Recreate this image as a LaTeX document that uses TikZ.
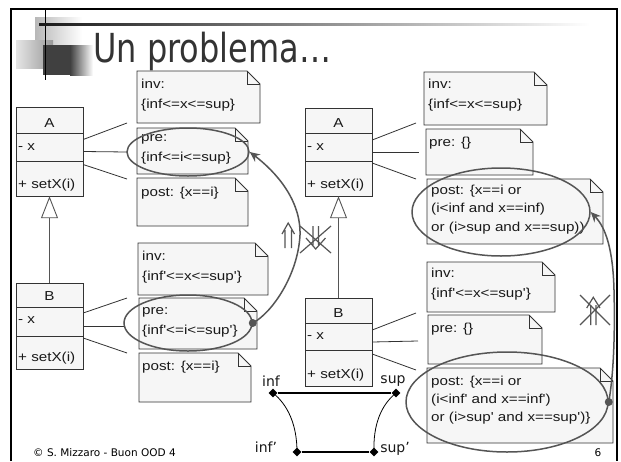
\documentclass[tikz,border=0pt]{standalone}
\usepackage{fontspec}
\setmainfont{DejaVu Sans}
\newfontfamily\umlfont[FakeStretch=1.17]{Liberation Sans}
\usetikzlibrary{shapes.geometric, arrows.meta, fit, calc}

\definecolor{ink}{HTML}{333333}
\definecolor{paper}{HTML}{F6F6F6}
\definecolor{markgray}{HTML}{555555}

\tikzset{
  notebox/.style={draw=ink, fill=paper, line width=0.9pt, line join=miter},
  foldline/.style={draw=ink, line width=0.9pt},
  classbox/.style={draw=ink, fill=paper, line width=0.9pt},
  txt/.style={anchor=base west, inner sep=0, font=\umlfont\fontsize{13}{15}\selectfont, text=black!90},
  ctxt/.style={anchor=base, inner sep=0, font=\umlfont\fontsize{13}{15}\selectfont, text=black!90},
  lbl/.style={inner sep=0, font=\fontsize{14}{16}\selectfont, text=black!90},
  link/.style={draw=ink, line width=0.8pt},
  focus/.style={ellipse, draw=markgray, line width=1.5pt, inner sep=0},
  flow/.style={draw=markgray, line width=1.5pt, -{Stealth[length=10pt, width=9pt]}},
  inherit/.style={draw=markgray, line width=0.9pt, -{Triangle[open, length=22pt, width=17pt, fill=white]}},
  glyph/.style={draw=markgray, line width=1.2pt},
  tip/.style={diamond, fill=black, inner sep=0, minimum size=9pt},
}

% UML note with a folded corner: name, x1, y1, x2, y2
\newcommand\umlnote[5]{%
  \filldraw[notebox] (#2,#3) -- ({#4-13},#3) -- (#4,{#3+13}) -- (#4,#5) -- (#2,#5) -- cycle;
  \draw[foldline] ({#4-13},#3) -- ({#4-13},{#3+13}) -- (#4,{#3+13});
  \node[fit={(#2,#3) (#4,#5)}, inner sep=0] (#1) {};
}
% UML class with three compartments: name, x1, top, divider 1, divider 2, bottom
\newcommand\umlclass[6]{%
  \filldraw[classbox] (#2,#3) rectangle ({#2+67},#6);
  \draw[foldline] (#2,#4) -- ({#2+67},#4) (#2,#5) -- ({#2+67},#5);
  \node[fit={(#2,#3) ({#2+67},#6)}, inner sep=0] (#1) {};
}

\begin{document}
\begin{tikzpicture}[x=1pt, y=-1pt]
\useasboundingbox (0,0) rectangle (621,461);
\fill[white] (0,0) rectangle (621,461);

% slide frame
\draw[black, line width=2.2pt] (11,461) -- (11,9) -- (617,9) -- (617,461);

% title ornament
\shade[left color=black!28, right color=white] (35,17) rectangle (82,48);
\shade[left color=black!10, right color=black!40] (16,40) rectangle (53,68);
\fill[black!75] (43,45) rectangle (70,75);
\shade[left color=black!75, right color=white] (70,45) rectangle (93,75);
\draw[black, line width=1.5pt] (45.7,10) -- (45.7,80);
\shade[left color=black!90, middle color=black!70, right color=white] (39,23.2) rectangle (590,25.2);
\node[anchor=base west, inner sep=0, font=\fontsize{40}{40}\selectfont, text=black!80, xscale=0.8] (title) at (93,62) {Un problema…};

% ---------- left pair of classes ----------
\umlclass{cA}{16}{107}{133}{161}{196}
\node[ctxt] (cA-name) at (49.5,127) {A};
\node[txt] (cA-attr) at (18,150) {- x};
\node[txt] (cA-op) at (18,188) {+ setX(i)};

\umlclass{cB}{16}{283}{307}{336}{369}
\node[ctxt] (cB-name) at (49.5,300) {B};
\node[txt] (cB-attr) at (18,323) {- x};
\node[txt] (cB-op) at (18,361) {+ setX(i)};

\draw[inherit] (cB.north) -- (cA.south);

\umlnote{nInvA}{137}{71}{260}{123}
\node[txt] (nInvA-1) at (141,88) {inv:};
\node[txt] (nInvA-2) at (141,108) {\{inf<=x<=sup\}};
\umlnote{nPreA}{137}{128}{248}{174}
\node[txt] (nPreA-1) at (141,141) {pre:};
\node[txt] (nPreA-2) at (141,161) {\{inf<=i<=sup\}};
\umlnote{nPostA}{137}{178}{248}{226}
\node[txt] (nPostA-1) at (141,196) {post: \{x==i\}};

\umlnote{nInvB}{138}{243}{268}{295}
\node[txt] (nInvB-1) at (142,260) {inv:};
\node[txt] (nInvB-2) at (142,280) {\{inf'<=x<=sup'\}};
\umlnote{nPreB}{139}{298}{257}{349}
\node[txt] (nPreB-1) at (142,314) {pre:};
\node[txt] (nPreB-2) at (142,334) {\{inf'<=i<=sup'\}};
\umlnote{nPostB}{139}{353}{251}{402}
\node[txt] (nPostB-1) at (142,370) {post: \{x==i\}};

\coordinate (cA-e1) at (127,123);
\coordinate (cA-e2) at (127,152);
\coordinate (cA-e3) at (127,179);
\draw[link] ([yshift=12pt]cA.east) -- (cA-e1);
\draw[link] (cA.east) -- (cA-e2);
\draw[link] ([yshift=-13pt]cA.east) -- (cA-e3);

\coordinate (cB-e1) at (127,298);
\coordinate (cB-e2) at (124,326);
\coordinate (cB-e3) at (127,353);
\draw[link] ([yshift=13pt]cB.east) -- (cB-e1);
\draw[link] (cB.east) -- (cB-e2);
\draw[link] ([yshift=-12pt]cB.east) -- (cB-e3);

\node[focus, minimum width=122pt, minimum height=48pt] (eA) at (188,152) {};
\node[focus, minimum width=128pt, minimum height=56pt] (eB) at (188,323) {};
\draw[flow] (eB.east) .. controls (272,313) and (298,275) .. (300,235)
            .. controls (301,200) and (276,172) .. (eA.east);
\fill[markgray] (eB.east) circle (4pt);

% implication holds, converse crossed out
\draw[glyph] (285,230) -- (285,248) (291.5,230) -- (291.5,248)
             (282,234) -- (288.2,223) -- (294.5,234);
\draw[glyph] (313,226) -- (313,245) (318.5,226) -- (318.5,245)
             (306,238) -- (315.7,249) -- (325.5,238);
\draw[glyph] (300,226) -- (331,253) (331,226) -- (300,253);

% ---------- right pair of classes ----------
\umlclass{dA}{305}{108}{133}{161}{196}
\node[ctxt] (dA-name) at (338.5,127) {A};
\node[txt] (dA-attr) at (307,150) {- x};
\node[txt] (dA-op) at (307,188) {+ setX(i)};

\umlclass{dB}{305}{298}{323}{350}{386}
\node[ctxt] (dB-name) at (338.5,317) {B};
\node[txt] (dB-attr) at (307,339) {- x};
\node[txt] (dB-op) at (307,378) {+ setX(i)};

\draw[inherit] (dB.north) -- (dA.south);

\umlnote{mInvA}{424}{72}{547}{125}
\node[txt] (mInvA-1) at (428,88) {inv:};
\node[txt] (mInvA-2) at (428,108) {\{inf<=x<=sup\}};
\umlnote{mPreA}{426}{129}{533}{175}
\node[txt] (mPreA-1) at (429,146) {pre: \{\}};
\umlnote{mPostA}{427}{179}{603}{244}
\node[txt] (mPostA-1) at (431,194) {post: \{x==i or};
\node[txt] (mPostA-2) at (431,212) {(i<inf and x==inf)};
\node[txt] (mPostA-3) at (431,231) {or (i>sup and x==sup))};

\umlnote{mInvB}{427}{262}{555}{312}
\node[txt] (mInvB-1) at (431,277) {inv:};
\node[txt] (mInvB-2) at (431,297) {\{inf'<=x<=sup'\}};
\umlnote{mPreB}{428}{315}{542}{364}
\node[txt] (mPreB-1) at (431,332) {pre: \{\}};
\umlnote{mPostB}{427}{368}{613}{443}
\node[txt] (mPostB-1) at (431,385) {post: \{x==i or};
\node[txt] (mPostB-2) at (431,403) {(i<inf' and x==inf')};
\node[txt] (mPostB-3) at (431,421) {or (i>sup' and x==sup')\}};

\coordinate (dA-e1) at (416,123);
\coordinate (dA-e2) at (419,152);
\coordinate (dA-e3) at (416,179);
\draw[link] ([yshift=12pt]dA.east) -- (dA-e1);
\draw[link] (dA.east) -- (dA-e2);
\draw[link] ([yshift=-11pt]dA.east) -- (dA-e3);

\coordinate (dB-e1) at (416,313);
\coordinate (dB-e2) at (418,341);
\coordinate (dB-e3) at (416,370);
\draw[link] ([yshift=12pt]dB.east) -- (dB-e1);
\draw[link] (dB.east) -- (dB-e2);
\draw[link] ([yshift=-12pt]dB.east) -- (dB-e3);

\node[focus, minimum width=178pt, minimum height=88pt] (eC) at (501,212) {};
\node[focus, minimum width=202pt, minimum height=100pt] (eD) at (507,402) {};
\draw[flow] (eD.east) .. controls (614,372) and (615,330) .. (614,290)
            .. controls (613,250) and (606,228) .. (eC.east);
\fill[markgray] (eD.east) circle (4pt);

% converse crossed out
\draw[glyph] (590.7,305) -- (590.7,325) (596,305) -- (596,325)
             (586.7,308) -- (593.3,297.3) -- (600,308);
\draw[glyph] (580,295) -- (610,325) (610,295) -- (580,325);

% ---------- interval picture ----------
\node[tip] (inf) at (273,393) {};
\node[tip] (sup) at (396,393) {};
\node[tip] (inf2) at (297,452) {};
\node[tip] (sup2) at (374,452) {};
\draw[black, line width=2pt] (inf) -- (sup);
\draw[black, line width=2pt] (inf2) -- (sup2);
\draw[black, line width=0.8pt] (inf.center) .. controls (288,405) and (297,425) .. (inf2.center);
\draw[black, line width=0.8pt] (sup.center) .. controls (381,405) and (373,425) .. (sup2.center);
\node[lbl] (inf-l) at (271,381) {inf};
\node[lbl] (sup-l) at (393,381) {sup};
\node[lbl] (inf2-l) at (266,447) {inf'};
\node[lbl] (sup2-l) at (395,449) {sup'};

% footer
\node[anchor=base west, inner sep=0, font=\fontsize{10.5}{12}\selectfont] (credit) at (33,456) {© S. Mizzaro - Buon OOD 4};
\node[anchor=base, inner sep=0, font=\fontsize{10.5}{12}\selectfont] (page) at (598,456) {6};
\end{tikzpicture}
\end{document}
